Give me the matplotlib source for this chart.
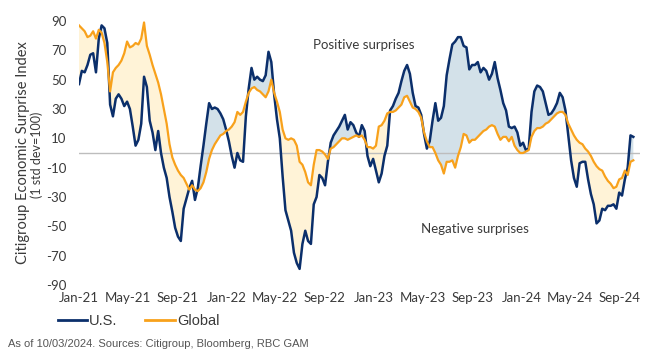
import matplotlib
matplotlib.use("Agg")
import matplotlib.pyplot as plt
import numpy as np
import pandas as pd
from matplotlib import font_manager

# ---- data (weekly readings, Jan 2021 - Oct 2024) ----
start_date = "2021-01-01"
us_values = [
    47, 56, 55, 60, 67, 68, 55, 78, 87, 85, 75, 33, 25, 37, 40, 37, 32, 35, 30, 18,
    5, 9, 20, 52, 45, 22, 14, 2, 15, 0, -10, -17, -30, -40, -51, -57, -60, -38, -31, -24,
    -19, -32, -24, -9, 5, 20, 34, 30, 31, 30, 27, 23, 16, 8, -2, -10, 0, -5, -6, 25,
    44, 58, 50, 52, 50, 49, 53, 69, 62, 40, 23, 10, -16, -39, -46, -53, -68, -75, -79, -62,
    -53, -60, -62, -35, -30, -15, -17, -22, -6, 7, 12, 15, 18, 22, 26, 16, 21, 19, 14, 11,
    19, 15, -2, -9, -4, -12, -20, -14, -2, 5, 29, 32, 37, 41, 49, 56, 60, 54, 41, 32,
    31, 26, 13, 3, 8, 22, 34, 22, 24, 32, 53, 64, 74, 76, 79, 79, 73, 72, 57, 60,
    60, 62, 55, 58, 56, 50, 54, 62, 51, 43, 34, 29, 18, 17, 18, 14, 5, 7, 2, 3,
    28, 42, 46, 45, 42, 34, 26, 27, 30, 34, 41, 38, 29, 12, -5, -17, -23, -7, -6, -6,
    -18, -28, -35, -48, -46, -38, -39, -36, -36, -35, -38, -27, -29, -18, -10, 12, 11,
]
global_values = [
    87, 85, 83, 79, 80, 83, 78, 84, 82, 75, 62, 42, 55, 58, 60, 63, 68, 76, 72, 73,
    75, 74, 78, 89, 73, 67, 60, 54, 48, 40, 30, 20, 6, -3, -8, -12, -15, -17, -21, -25,
    -22, -25, -26, -24, -20, -13, -4, 2, 6, 9, 12, 13, 15, 16, 18, 21, 28, 26, 28, 35,
    41, 44, 45, 43, 42, 40, 38, 42, 50, 41, 35, 28, 16, 10, 9, 10, 9, 5, -6, -8,
    -13, -20, -22, -8, 2, 2, 1, -1, -4, 3, 4, 6, 8, 10, 10, 9, 10, 11, 12, 11,
    12, 9, 4, 4, 3, 5, 18, 19, 22, 27, 28, 28, 29, 31, 33, 38, 39, 35, 31, 30,
    28, 24, 14, 8, 4, 4, 0, -5, -8, -14, -6, -6, -5, -10, -2, 4, 13, 12, 7, 9,
    9, 11, 13, 15, 16, 18, 19, 18, 13, 9, 11, 11, 8, 11, 5, 2, 0, 0, 1, 2,
    11, 15, 17, 17, 18, 20, 21, 23, 25, 27, 28, 28, 26, 20, 16, 12, 9, 7, 6, 3,
    1, -2, -6, -9, -11, -12, -16, -19, -21, -24, -23, -18, -17, -12, -15, -6, -5,
]
tick_months = ["2021-01-01", "2021-05-01", "2021-09-01", "2022-01-01", "2022-05-01",
               "2022-09-01", "2023-01-01", "2023-05-01", "2023-09-01", "2024-01-01",
               "2024-05-01", "2024-09-01"]
tick_labels = ["Jan-21", "May-21", "Sep-21", "Jan-22", "May-22", "Sep-22", "Jan-23",
               "May-23", "Sep-23", "Jan-24", "May-24", "Sep-24"]
y_ticks = [90, 70, 50, 30, 10, -10, -30, -50, -70, -90]
series_names = ["U.S.", "Global"]

# ---- styling ----
navy = "#0B2F6B"
orange = "#F8A11B"
fill_blue = "#D3E1E9"
fill_yellow = "#FFF3D7"
txt = "#3A3A3A"

avail = {f.name for f in font_manager.fontManager.ttflist}
main_font = "Lato" if "Lato" in avail else "DejaVu Sans"
narrow_font = "Liberation Sans Narrow" if "Liberation Sans Narrow" in avail else "Liberation Sans"
plt.rcParams["font.family"] = [main_font, "DejaVu Sans"]

W, H = 650, 359
fig = plt.figure(figsize=(W / 100, H / 100), dpi=100)
ax_left, ax_right = 79, 640
ax_top, ax_bot = 21, 285
ax = fig.add_axes([ax_left / W, 1 - ax_bot / H, (ax_right - ax_left) / W, (ax_bot - ax_top) / H])

n = len(us_values)
dates = pd.date_range(start_date, periods=n, freq="7D")
us = np.array(us_values, dtype=float)
gl = np.array(global_values, dtype=float)

ax.fill_between(dates, us, gl, where=us >= gl, interpolate=True, color=fill_blue, lw=0)
ax.fill_between(dates, us, gl, where=us <= gl, interpolate=True, color=fill_yellow, lw=0)
ax.axhline(0, color="#BDBDBD", lw=1.0, zorder=1)
ax.plot(dates, us, color=navy, lw=1.8, label=series_names[0], zorder=3, solid_joinstyle="round")
ax.plot(dates, gl, color=orange, lw=1.6, label=series_names[1], zorder=4, solid_joinstyle="round")

t0 = pd.Timestamp(start_date)
px_per_day = (620 - 79) / (pd.Timestamp("2024-09-01") - t0).days
x_end = t0 + pd.Timedelta(days=(ax_right - ax_left) / px_per_day)
ax.set_xlim(t0, x_end)
ax.set_ylim(-90, 90)

ax.set_yticks(y_ticks)
ax.set_yticklabels([str(v) for v in y_ticks])
ax.set_xticks(pd.to_datetime(tick_months))
ax.set_xticklabels(tick_labels)
ax.tick_params(axis="both", length=0, labelsize=9.5, colors=txt)
ax.tick_params(axis="y", pad=9)
ax.tick_params(axis="x", pad=5)
for s in ax.spines.values():
    s.set_visible(False)

ax.text(pd.Timestamp("2022-12-07"), 73.5, "Positive surprises", ha="center", va="center",
        fontsize=9.5, color=txt)
ax.text(pd.Timestamp("2023-09-07"), -52, "Negative surprises", ha="center", va="center",
        fontsize=9.5, color=txt)

fig.text(23 / W, 1 - 153 / H, "Citigroup Economic Surprise Index", rotation=90,
         ha="center", va="center", fontsize=10.5, color=txt)
fig.text(37 / W, 1 - 155 / H, "(1 std dev=100)", rotation=90,
         ha="center", va="center", fontsize=9, color=txt)

leg = fig.legend(loc="center left", bbox_to_anchor=(58 / W, 1 - 321 / H), ncol=2,
                 frameon=False, handlelength=2.0, handletextpad=0.15, columnspacing=1.9,
                 borderpad=0, borderaxespad=0,
                 prop={"family": [narrow_font, "DejaVu Sans"], "size": 10.5})
for t in leg.get_texts():
    t.set_color(txt)
for l in leg.get_lines():
    l.set_linewidth(2.0)

fig.text(8 / W, 1 - 344 / H, "As of 10/03/2024. Sources: Citigroup, Bloomberg, RBC GAM",
         ha="left", va="center", fontsize=8, color="#555555",
         family=[narrow_font, "DejaVu Sans"])

fig.savefig("out.png", dpi=100)
